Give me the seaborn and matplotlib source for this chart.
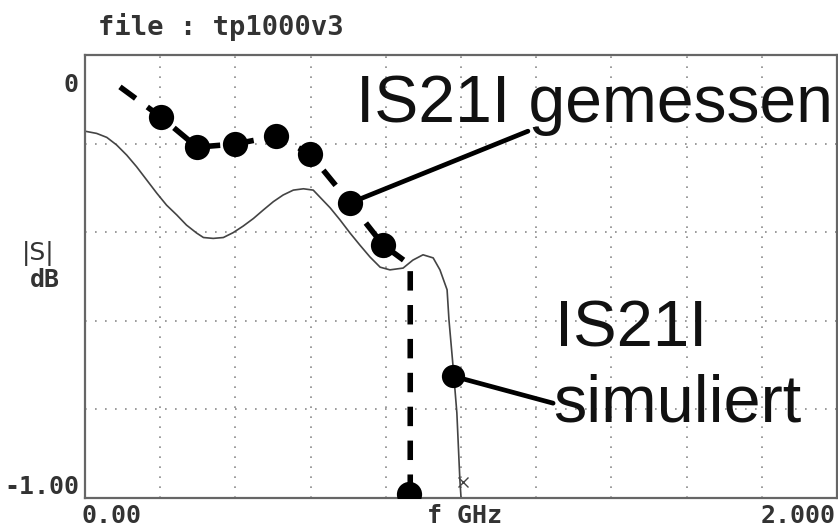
import numpy as np
import pandas as pd
import matplotlib
matplotlib.use("Agg")
import matplotlib.pyplot as plt
import seaborn as sns

# --- Werte (f in GHz, |S21| in dB) ---
sim_f = [0.000, 0.031, 0.058, 0.084, 0.111, 0.137, 0.164, 0.191, 0.217, 0.244,
         0.270, 0.297, 0.315, 0.341, 0.368, 0.394, 0.421, 0.448, 0.474, 0.501,
         0.527, 0.554, 0.581, 0.607, 0.625, 0.652, 0.678, 0.705, 0.731, 0.758,
         0.785, 0.811, 0.846, 0.872, 0.899, 0.926, 0.944, 0.963, 0.968, 0.979,
         0.989, 0.997, 1.000]
sim_db = [-0.172, -0.177, -0.186, -0.203, -0.226, -0.252, -0.282, -0.312, -0.339, -0.361,
          -0.384, -0.402, -0.412, -0.414, -0.412, -0.401, -0.386, -0.369, -0.350, -0.331,
          -0.316, -0.305, -0.302, -0.305, -0.321, -0.345, -0.372, -0.402, -0.429, -0.456,
          -0.479, -0.485, -0.481, -0.463, -0.451, -0.458, -0.485, -0.530, -0.598, -0.704,
          -0.808, -0.959, -0.998]

meas_f = [0.093, 0.202, 0.298, 0.399, 0.508, 0.598, 0.705, 0.793, 0.865, 0.865]
meas_db = [-0.072, -0.140, -0.208, -0.201, -0.183, -0.223, -0.334, -0.429, -0.474, -0.991]

dot_f = [0.202, 0.298, 0.399, 0.508, 0.598, 0.705, 0.793, 0.862]
dot_db = [-0.140, -0.208, -0.201, -0.183, -0.223, -0.334, -0.429, -0.991]

# Markierung auf der simulierten Kurve und Ende der Kurve (x)
sim_dot_f, sim_dot_db = [0.979], [-0.725]
end_f, end_db = [1.005], [-0.965]

# Beschriftungen und Zeigerlinien
label_meas = "IS21I gemessen"
label_sim = ["IS21I", "simuliert"]
ptr_meas_f, ptr_meas_db = [1.178, 0.705], [-0.172, -0.334]
ptr_sim_f, ptr_sim_db = [1.245, 0.979], [-0.786, -0.725]

sns.set_style("white")
plt.rcParams["font.family"] = ["DejaVu Sans"]

fig = plt.figure(figsize=(8.38, 5.27), dpi=100)
ax = fig.add_axes([85 / 838, 29 / 527, 752 / 838, 443 / 527])

df_sim = pd.DataFrame({"f": sim_f, "db": sim_db})
df_meas = pd.DataFrame({"f": meas_f, "db": meas_db})

sns.lineplot(data=df_sim, x="f", y="db", sort=False, estimator=None,
             color="#444444", linewidth=1.2, ax=ax)
sns.lineplot(data=df_meas, x="f", y="db", sort=False, estimator=None,
             color="black", linewidth=4, linestyle=(0, (3.5, 2.6)), ax=ax)
sns.scatterplot(x=dot_f, y=dot_db, color="black", s=330, linewidth=0, ax=ax, zorder=5)
sns.scatterplot(x=sim_dot_f, y=sim_dot_db, color="black", s=280, linewidth=0, ax=ax, zorder=5)
ax.plot(end_f, end_db, marker="x", color="#444444", markersize=7, mew=1)

# Zeigerlinien
ax.plot(ptr_meas_f, ptr_meas_db, color="black", linewidth=3.4, solid_capstyle="round")
ax.plot(ptr_sim_f, ptr_sim_db, color="black", linewidth=3.4, solid_capstyle="round")

big = dict(family="Liberation Sans", va="baseline", ha="left", color="#111111")
ax.text(0.721, -0.151, label_meas, fontsize=47.5, **big)
ax.text(1.250, -0.659, label_sim[0], fontsize=47, **big)
ax.text(1.245, -0.828, label_sim[1], fontsize=48, **big)

ax.set_xlim(0, 2.0)
ax.set_ylim(-1.0, 0.0)
ax.set_xticks(np.arange(0, 2.01, 0.2))
ax.set_yticks(np.arange(-1.0, 0.01, 0.2))
ax.tick_params(length=0, labelbottom=False, labelleft=False)
ax.set_xlabel("")
ax.set_ylabel("")
ax.grid(True, color="#8a8a8a", linestyle=(0, (1, 5)), linewidth=1.2)
for sp in ax.spines.values():
    sp.set_color("#666666")
    sp.set_linewidth(1.6)

mono = dict(family="DejaVu Sans Mono", fontsize=18, color="#333333", fontweight="bold")
ax.text(-0.008, -0.068, "0", ha="right", va="center",
        transform=ax.get_yaxis_transform(), **mono)
ax.text(-0.008, -0.975, "-1.00", ha="right", va="center",
        transform=ax.get_yaxis_transform(), **mono)
ax.text(-0.004, -0.041, "0.00", ha="left", va="center", transform=ax.transAxes, **mono)
ax.text(0.455, -0.041, "f GHz", ha="left", va="center", transform=ax.transAxes, **mono)
ax.text(0.998, -0.041, "2.000", ha="right", va="center", transform=ax.transAxes, **mono)

fig.text(38 / 838, 1 - 253 / 527, "|S|", ha="center", va="center",
         family="DejaVu Sans", fontsize=18, color="#333333")
fig.text(45 / 838, 1 - 280 / 527, "dB", ha="center", va="center", **mono)
title_style = dict(mono, fontsize=19.5)
fig.text(98 / 838, 1 - 27 / 527, "file : tp1000v3", ha="left", va="center", **title_style)

fig.savefig("out.png", dpi=100)
